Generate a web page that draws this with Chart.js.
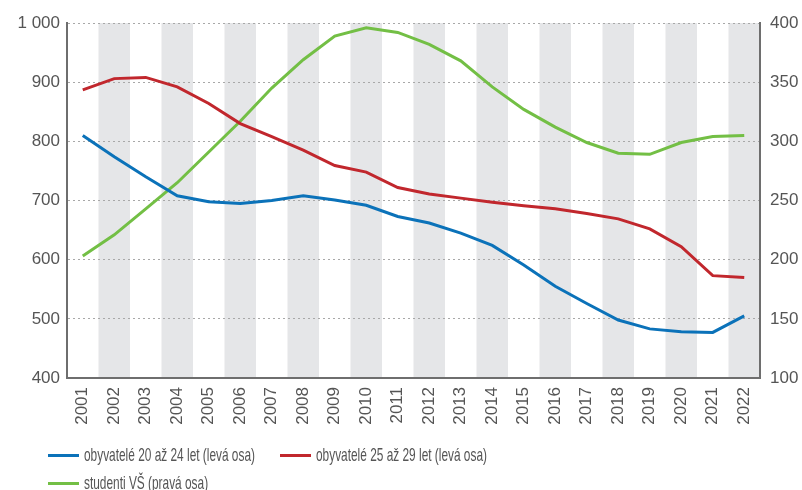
<!DOCTYPE html>
<html>
<head>
<meta charset="utf-8">
<script src="https://cdn.jsdelivr.net/npm/chart.js@4/dist/chart.umd.min.js"></script>
<style>
  html,body{margin:0;padding:0;background:#fff;}
  #wrap{position:relative;width:802px;height:490px;overflow:hidden;}
  #c{position:absolute;left:0;top:0;}
  .lg{position:absolute;height:22px;display:flex;align-items:center;white-space:nowrap;}
  .lg i{display:inline-block;width:31px;height:3px;margin-right:5px;}
  .lg span{display:inline-block;font-family:"Liberation Sans Narrow","Liberation Sans",sans-serif;font-size:19px;color:#555;transform-origin:0 50%;}
</style>
</head>
<body>
<div id="wrap">
  <canvas id="c" width="802" height="490"></canvas>
  <div class="lg" style="left:48px;top:444px"><i style="background:#0b72b9"></i><span data-w="171">obyvatelé 20 až 24 let (levá osa)</span></div>
  <div class="lg" style="left:280px;top:444px"><i style="background:#c1272d"></i><span data-w="171">obyvatelé 25 až 29 let (levá osa)</span></div>
  <div class="lg" style="left:48px;top:472px"><i style="background:#73bf45"></i><span data-w="124">studenti VŠ (pravá osa)</span></div>
</div>
<script>
const years = ['2001','2002','2003','2004','2005','2006','2007','2008','2009','2010','2011','2012','2013','2014','2015','2016','2017','2018','2019','2020','2021','2022'];
const obyv20_24 = [810, 774, 740, 708, 698, 695, 700, 708, 701, 692, 673, 662, 645, 624, 591, 555, 526, 498, 483, 478, 477, 505];
const obyv25_29 = [887, 906, 908, 892, 864, 830, 808, 785, 759, 748, 722, 711, 704, 697, 691, 686, 678, 669, 652, 622, 573, 570];
const studentiVS = [203, 221, 243, 265, 291, 317, 345, 369, 389, 396, 392, 382, 368, 346, 327, 312, 299, 290, 289, 299, 304, 305];
const leftTicks = [400, 500, 600, 700, 800, 900, 1000];
const rightTicks = [100, 150, 200, 250, 300, 350, 400];

function fmt(v){ return String(v).replace(/\B(?=(\d{3})+(?!\d))/g, ' '); }

const bands = {
  id:'bands',
  beforeDraw(chart){
    const {ctx, chartArea:a, scales:{x}} = chart;
    const step = x.getPixelForValue(1) - x.getPixelForValue(0);
    ctx.save();
    ctx.fillStyle = '#e5e6e8';
    for(let i=1;i<years.length;i+=2){
      const cx = x.getPixelForValue(i);
      ctx.fillRect(cx-step/2, a.top, step, a.bottom-a.top);
    }
    ctx.restore();
  }
};

const tickFont = {family:'"Liberation Sans", Arial, sans-serif', size:17};
new Chart(document.getElementById('c'), {
  type:'line',
  data:{
    labels:years,
    datasets:[
      {label:'obyvatelé 20 až 24 let (levá osa)', data:obyv20_24, yAxisID:'y', borderColor:'#0b72b9', borderWidth:3, pointRadius:0, tension:0},
      {label:'obyvatelé 25 až 29 let (levá osa)', data:obyv25_29, yAxisID:'y', borderColor:'#c1272d', borderWidth:3, pointRadius:0, tension:0},
      {label:'studenti VŠ (pravá osa)', data:studentiVS, yAxisID:'y1', borderColor:'#73bf45', borderWidth:3, pointRadius:0, tension:0}
    ]
  },
  options:{
    responsive:false, animation:false, devicePixelRatio:1,
    layout:{padding:{top:23,left:0,right:0,bottom:0}},
    plugins:{legend:{display:false}, tooltip:{enabled:false}},
    scales:{
      x:{
        offset:true,
        grid:{display:false, drawTicks:false},
        border:{display:true, color:'#6e6e6e', width:2},
        ticks:{color:'#555', font:tickFont, minRotation:90, maxRotation:90, padding:9, autoSkip:false},
        afterFit(s){ s.height = 112; }
      },
      y:{
        position:'left', min:400, max:1000,
        afterBuildTicks(s){ s.ticks = leftTicks.map(v=>({value:v})); },
        grid:{color:'#a8a8a8', lineWidth:1, drawTicks:false},
        border:{display:true, color:'#6e6e6e', width:2, dash:[2,3]},
        ticks:{color:'#555', font:tickFont, padding:7, callback:v=>fmt(v)},
        afterFit(s){ s.width = 67; }
      },
      y1:{
        position:'right', min:100, max:400,
        afterBuildTicks(s){ s.ticks = rightTicks.map(v=>({value:v})); },
        grid:{display:false, drawTicks:false},
        border:{display:true, color:'#6e6e6e', width:2},
        ticks:{color:'#555', font:tickFont, padding:10, callback:v=>fmt(v)},
        afterFit(s){ s.width = 42; }
      }
    }
  },
  plugins:[bands]
});

document.querySelectorAll('.lg span').forEach(el=>{
  const w = el.getBoundingClientRect().width;
  const t = +el.dataset.w;
  if (w>0) el.style.transform = 'scaleX(' + (t/w).toFixed(3) + ')';
});
</script>
</body>
</html>
